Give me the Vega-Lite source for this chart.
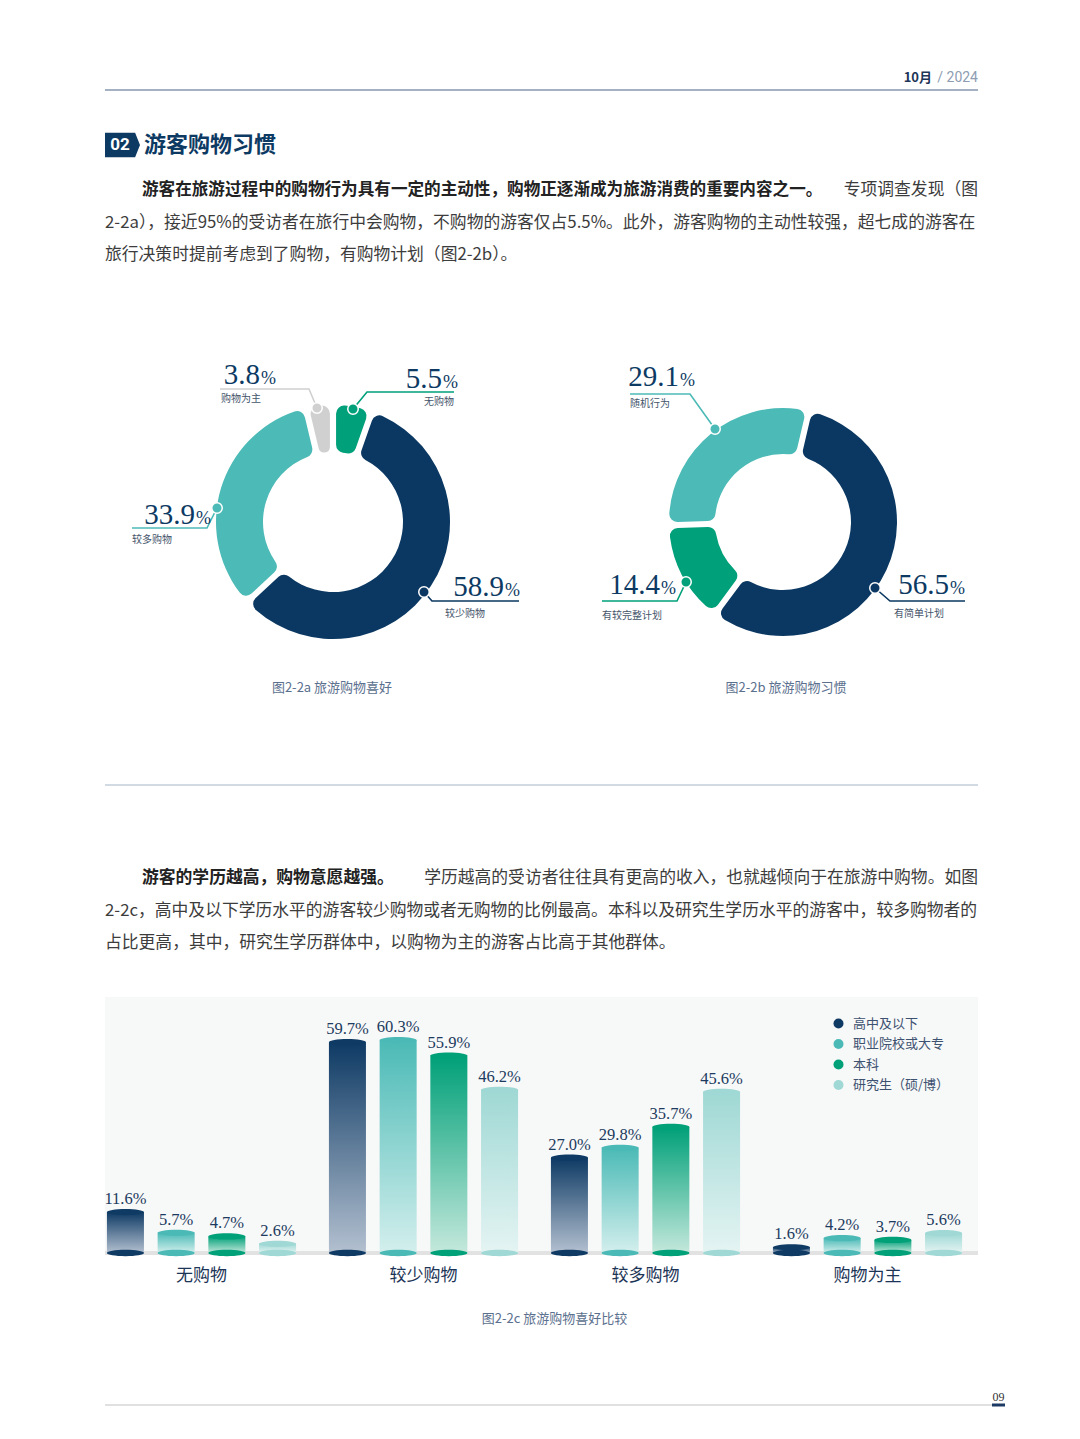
{
"$schema": "https://vega.github.io/schema/vega-lite/v6.json",
"background": "white",
"padding": {"left": 103, "top": 0, "right": 0, "bottom": 0},
"autosize": {"type": "pad"},
"bounds": "full",
"spacing": 0,
"resolve": {"scale": {"color": "independent", "theta": "independent", "x": "independent", "y": "independent"}, "legend": {"color": "independent"}},
"config": {"view": {"stroke": null}, "text": {"font": "Noto Sans CJK SC"}},
"datasets": {
 "p1": [
  {"line": 1, "part": "lead", "t": "游客在旅游过程中的购物行为具有一定的主动性，购物正逐渐成为旅游消费的重要内容之一。"},
  {"line": 1, "part": "tail", "t": "专项调查发现（图"},
  {"line": 2, "part": "body", "t": "2-2a），接近95%的受访者在旅行中会购物，不购物的游客仅占5.5%。此外，游客购物的主动性较强，超七成的游客在"},
  {"line": 3, "part": "body", "t": "旅行决策时提前考虑到了购物，有购物计划（图2-2b）。"}
 ],
 "p2": [
  {"line": 1, "part": "lead", "t": "游客的学历越高，购物意愿越强。"},
  {"line": 1, "part": "tail", "t": "学历越高的受访者往往具有更高的收入，也就越倾向于在旅游中购物。如图"},
  {"line": 2, "part": "body", "t": "2-2c，高中及以下学历水平的游客较少购物或者无购物的比例最高。本科以及研究生学历水平的游客中，较多购物者的"},
  {"line": 3, "part": "body", "t": "占比更高，其中，研究生学历群体中，以购物为主的游客占比高于其他群体。"}
 ],
 "aArcs": [
  {"k": "无购物", "v": 5.5, "ord": 1},
  {"k": "较少购物", "v": 58.9, "ord": 2},
  {"k": "较多购物", "v": 33.9, "ord": 3},
  {"k": "购物为主", "v": 3.8, "ord": 4}
 ],
 "aLines": [
  {"k": "无购物", "i": 0, "x": 0.20, "y": 1.13}, {"k": "无购物", "i": 1, "x": 0.34, "y": 1.30}, {"k": "无购物", "i": 2, "x": 1.21, "y": 1.30},
  {"k": "购物为主", "i": 0, "x": -0.16, "y": 1.14}, {"k": "购物为主", "i": 1, "x": -0.24, "y": 1.33}, {"k": "购物为主", "i": 2, "x": -1.13, "y": 1.33},
  {"k": "较多购物", "i": 0, "x": -1.16, "y": 0.14}, {"k": "较多购物", "i": 1, "x": -1.26, "y": -0.06}, {"k": "较多购物", "i": 2, "x": -2.01, "y": -0.06},
  {"k": "较少购物", "i": 0, "x": 0.91, "y": -0.70}, {"k": "较少购物", "i": 1, "x": 0.99, "y": -0.79}, {"k": "较少购物", "i": 2, "x": 1.86, "y": -0.79}
 ],
 "aNums": [
  {"k": "无购物", "v": 5.5, "x": 1.09, "y": 1.34},
  {"k": "购物为主", "v": 3.8, "x": -0.73, "y": 1.38},
  {"k": "较多购物", "v": 33.9, "x": -1.38, "y": -0.02},
  {"k": "较少购物", "v": 58.9, "x": 1.71, "y": -0.74}
 ],
 "aSubs": [
  {"k": "无购物", "x": 0.91, "y": 1.20},
  {"k": "购物为主", "x": -1.12, "y": 1.23},
  {"k": "较多购物", "x": -2.01, "y": -0.18},
  {"k": "较少购物", "x": 1.12, "y": -0.92}
 ],
 "aCap": [{"t": "图2-2a 旅游购物喜好", "x": -0.01, "y": -1.66}],
 "bArcs": [
  {"k": "有简单计划", "v": 56.5, "ord": 1},
  {"k": "有较完整计划", "v": 14.4, "ord": 2},
  {"k": "随机行为", "v": 29.1, "ord": 3}
 ],
 "bLines": [
  {"k": "随机行为", "i": 0, "x": -0.68, "y": 0.93}, {"k": "随机行为", "i": 1, "x": -0.93, "y": 1.28}, {"k": "随机行为", "i": 2, "x": -1.53, "y": 1.28},
  {"k": "有较完整计划", "i": 0, "x": -0.97, "y": -0.60}, {"k": "有较完整计划", "i": 1, "x": -1.06, "y": -0.79}, {"k": "有较完整计划", "i": 2, "x": -1.81, "y": -0.79},
  {"k": "有简单计划", "i": 0, "x": 0.92, "y": -0.66}, {"k": "有简单计划", "i": 1, "x": 1.07, "y": -0.79}, {"k": "有简单计划", "i": 2, "x": 1.82, "y": -0.79}
 ],
 "bNums": [
  {"k": "随机行为", "v": 29.1, "x": -1.04, "y": 1.36},
  {"k": "有较完整计划", "v": 14.4, "x": -1.23, "y": -0.72},
  {"k": "有简单计划", "v": 56.5, "x": 1.66, "y": -0.72}
 ],
 "bSubs": [
  {"k": "随机行为", "x": -1.53, "y": 1.18},
  {"k": "有较完整计划", "x": -1.81, "y": -0.94},
  {"k": "有简单计划", "x": 1.11, "y": -0.92}
 ],
 "bCap": [{"t": "图2-2b 旅游购物习惯", "x": 0.03, "y": -1.66}],
 "bars": [
  {"cat": "无购物", "edu": "高中及以下", "v": 0.116},
  {"cat": "无购物", "edu": "职业院校或大专", "v": 0.057},
  {"cat": "无购物", "edu": "本科", "v": 0.047},
  {"cat": "无购物", "edu": "研究生（硕/博）", "v": 0.026},
  {"cat": "较少购物", "edu": "高中及以下", "v": 0.597},
  {"cat": "较少购物", "edu": "职业院校或大专", "v": 0.603},
  {"cat": "较少购物", "edu": "本科", "v": 0.559},
  {"cat": "较少购物", "edu": "研究生（硕/博）", "v": 0.462},
  {"cat": "较多购物", "edu": "高中及以下", "v": 0.270},
  {"cat": "较多购物", "edu": "职业院校或大专", "v": 0.298},
  {"cat": "较多购物", "edu": "本科", "v": 0.357},
  {"cat": "较多购物", "edu": "研究生（硕/博）", "v": 0.456},
  {"cat": "购物为主", "edu": "高中及以下", "v": 0.016},
  {"cat": "购物为主", "edu": "职业院校或大专", "v": 0.042},
  {"cat": "购物为主", "edu": "本科", "v": 0.037},
  {"cat": "购物为主", "edu": "研究生（硕/博）", "v": 0.056}
 ]
},
"vconcat": [
 {
  "width": 873, "height": 173.5,
  "layer": [
   {"data": {"values": [{"n": 1}]}, "mark": {"type": "rule", "color": "#4b6485", "strokeWidth": 1.2}, "encoding": {"x": {"value": 0}, "x2": {"value": "width"}, "y": {"value": 90}}},
   {"data": {"values": [{"t": "/ 2024"}]}, "mark": {"type": "text", "align": "right", "baseline": "middle", "fontSize": 14, "color": "#8d9db2", "font": "Roboto"}, "encoding": {"text": {"field": "t"}, "x": {"value": "width"}, "y": {"value": 78}}},
   {"data": {"values": [{"t": "10月"}]}, "mark": {"type": "text", "align": "right", "baseline": "middle", "fontSize": 13, "fontWeight": "bold", "color": "#1d3557", "dx": -46}, "encoding": {"text": {"field": "t"}, "x": {"value": "width"}, "y": {"value": 78}}},
   {"data": {"values": [{"t": "02"}]}, "mark": {"type": "point", "shape": "M-1,-0.7L0.72,-0.7L1,0L0.72,0.7L-1,0.7Z", "filled": true, "color": "#0d3a63", "size": 1225, "opacity": 1}, "encoding": {"x": {"value": 17.5}, "y": {"value": 145}}},
   {"data": {"values": [{"t": "02"}]}, "mark": {"type": "text", "align": "center", "baseline": "middle", "fontSize": 17, "fontWeight": "bold", "color": "white", "font": "Roboto"}, "encoding": {"text": {"field": "t"}, "x": {"value": 15}, "y": {"value": 145}}},
   {"data": {"values": [{"t": "游客购物习惯"}]}, "mark": {"type": "text", "align": "left", "baseline": "middle", "fontSize": 22, "fontWeight": "bold", "color": "#0d3a63"}, "encoding": {"text": {"field": "t"}, "x": {"value": 39}, "y": {"value": 145}}}
  ]
 },
 {
  "width": 873, "height": 97.5,
  "data": {"name": "p1"},
  "encoding": {"y": {"field": "line", "type": "quantitative", "scale": {"domain": [0.5, 3.5], "reverse": true, "nice": false, "zero": false}, "axis": null}, "text": {"field": "t"}},
  "layer": [
   {"transform": [{"filter": "datum.part === 'lead'"}], "mark": {"type": "text", "align": "left", "baseline": "middle", "fontSize": 16.6, "fontWeight": "bold", "color": "#222222", "dx": 37}, "encoding": {"x": {"value": 0}}},
   {"transform": [{"filter": "datum.part === 'tail'"}], "mark": {"type": "text", "align": "right", "baseline": "middle", "fontSize": 16.8, "color": "#3c3c3c"}, "encoding": {"x": {"value": "width"}}},
   {"transform": [{"filter": "datum.part === 'body'"}], "mark": {"type": "text", "align": "left", "baseline": "middle", "fontSize": 16.8, "color": "#3c3c3c"}, "encoding": {"x": {"value": 0}}}
  ]
 },
 {
  "hconcat": [
   {
    "width": 456, "height": 500,
    "layer": [
     {"data": {"name": "aArcs"}, "mark": {"type": "arc", "outerRadius": 117, "innerRadius": 70, "padAngle": 0.045, "cornerRadius": 8},
      "encoding": {
       "theta": {"field": "v", "type": "quantitative", "stack": true},
       "order": {"field": "ord", "type": "quantitative"},
       "color": {"field": "k", "type": "nominal", "scale": {"domain": ["无购物", "较少购物", "较多购物", "购物为主"], "range": ["#00a07a", "#0b3862", "#4cbab6", "#d0d0d0"]}, "legend": null}
      }},
     {"data": {"name": "aLines"}, "mark": {"type": "line", "strokeWidth": 1.6},
      "encoding": {
       "x": {"field": "x", "type": "quantitative", "scale": {"domain": [-2.28, 2.28], "nice": false, "zero": false}, "axis": null},
       "y": {"field": "y", "type": "quantitative", "scale": {"domain": [-2.5, 2.5], "nice": false, "zero": false}, "axis": null},
       "detail": {"field": "k"}, "order": {"field": "i", "type": "quantitative"}, "color": {"field": "k", "type": "nominal", "legend": null}}},
     {"data": {"name": "aLines"}, "transform": [{"filter": "datum.i === 0"}], "mark": {"type": "point", "filled": true, "size": 110, "opacity": 1, "stroke": "white", "strokeWidth": 1.5},
      "encoding": {
       "x": {"field": "x", "type": "quantitative", "scale": {"domain": [-2.28, 2.28], "nice": false, "zero": false}, "axis": null},
       "y": {"field": "y", "type": "quantitative", "scale": {"domain": [-2.5, 2.5], "nice": false, "zero": false}, "axis": null},
       "color": {"field": "k", "type": "nominal", "legend": null}}},
     {"data": {"name": "aNums"}, "mark": {"type": "text", "align": "right", "baseline": "alphabetic", "font": "Liberation Serif", "fontSize": 29, "color": "#0d3a63"},
      "encoding": {
       "x": {"field": "x", "type": "quantitative", "scale": {"domain": [-2.28, 2.28], "nice": false, "zero": false}, "axis": null},
       "y": {"field": "y", "type": "quantitative", "scale": {"domain": [-2.5, 2.5], "nice": false, "zero": false}, "axis": null},
       "text": {"field": "v", "type": "quantitative", "format": ".1f"}}},
     {"data": {"name": "aNums"}, "mark": {"type": "text", "align": "left", "baseline": "alphabetic", "font": "Liberation Serif", "fontSize": 18, "color": "#0d3a63", "dx": 1},
      "encoding": {
       "x": {"field": "x", "type": "quantitative", "scale": {"domain": [-2.28, 2.28], "nice": false, "zero": false}, "axis": null},
       "y": {"field": "y", "type": "quantitative", "scale": {"domain": [-2.5, 2.5], "nice": false, "zero": false}, "axis": null},
       "text": {"value": "%"}}},
     {"data": {"name": "aSubs"}, "mark": {"type": "text", "align": "left", "baseline": "middle", "fontSize": 10, "color": "#44546a"},
      "encoding": {
       "x": {"field": "x", "type": "quantitative", "scale": {"domain": [-2.28, 2.28], "nice": false, "zero": false}, "axis": null},
       "y": {"field": "y", "type": "quantitative", "scale": {"domain": [-2.5, 2.5], "nice": false, "zero": false}, "axis": null},
       "text": {"field": "k"}}},
     {"data": {"name": "aCap"}, "mark": {"type": "text", "align": "center", "baseline": "middle", "fontSize": 13, "color": "#5b708e"},
      "encoding": {
       "x": {"field": "x", "type": "quantitative", "scale": {"domain": [-2.28, 2.28], "nice": false, "zero": false}, "axis": null},
       "y": {"field": "y", "type": "quantitative", "scale": {"domain": [-2.5, 2.5], "nice": false, "zero": false}, "axis": null},
       "text": {"field": "t"}}}
    ]
   },
   {
    "width": 444, "height": 500,
    "layer": [
     {"data": {"name": "bArcs"}, "mark": {"type": "arc", "outerRadius": 114, "innerRadius": 68, "padAngle": 0.045, "cornerRadius": 8},
      "encoding": {
       "theta": {"field": "v", "type": "quantitative", "stack": true, "scale": {"range": [0.23, 6.5132]}},
       "order": {"field": "ord", "type": "quantitative"},
       "color": {"field": "k", "type": "nominal", "scale": {"domain": ["有简单计划", "有较完整计划", "随机行为"], "range": ["#0b3862", "#00a07a", "#4cbab6"]}, "legend": null}
      }},
     {"data": {"name": "bLines"}, "mark": {"type": "line", "strokeWidth": 1.6},
      "encoding": {
       "x": {"field": "x", "type": "quantitative", "scale": {"domain": [-2.22, 2.22], "nice": false, "zero": false}, "axis": null},
       "y": {"field": "y", "type": "quantitative", "scale": {"domain": [-2.5, 2.5], "nice": false, "zero": false}, "axis": null},
       "detail": {"field": "k"}, "order": {"field": "i", "type": "quantitative"}, "color": {"field": "k", "type": "nominal", "legend": null}}},
     {"data": {"name": "bLines"}, "transform": [{"filter": "datum.i === 0"}], "mark": {"type": "point", "filled": true, "size": 110, "opacity": 1, "stroke": "white", "strokeWidth": 1.5},
      "encoding": {
       "x": {"field": "x", "type": "quantitative", "scale": {"domain": [-2.22, 2.22], "nice": false, "zero": false}, "axis": null},
       "y": {"field": "y", "type": "quantitative", "scale": {"domain": [-2.5, 2.5], "nice": false, "zero": false}, "axis": null},
       "color": {"field": "k", "type": "nominal", "legend": null}}},
     {"data": {"name": "bNums"}, "mark": {"type": "text", "align": "right", "baseline": "alphabetic", "font": "Liberation Serif", "fontSize": 29, "color": "#0d3a63"},
      "encoding": {
       "x": {"field": "x", "type": "quantitative", "scale": {"domain": [-2.22, 2.22], "nice": false, "zero": false}, "axis": null},
       "y": {"field": "y", "type": "quantitative", "scale": {"domain": [-2.5, 2.5], "nice": false, "zero": false}, "axis": null},
       "text": {"field": "v", "type": "quantitative", "format": ".1f"}}},
     {"data": {"name": "bNums"}, "mark": {"type": "text", "align": "left", "baseline": "alphabetic", "font": "Liberation Serif", "fontSize": 18, "color": "#0d3a63", "dx": 1},
      "encoding": {
       "x": {"field": "x", "type": "quantitative", "scale": {"domain": [-2.22, 2.22], "nice": false, "zero": false}, "axis": null},
       "y": {"field": "y", "type": "quantitative", "scale": {"domain": [-2.5, 2.5], "nice": false, "zero": false}, "axis": null},
       "text": {"value": "%"}}},
     {"data": {"name": "bSubs"}, "mark": {"type": "text", "align": "left", "baseline": "middle", "fontSize": 10, "color": "#44546a"},
      "encoding": {
       "x": {"field": "x", "type": "quantitative", "scale": {"domain": [-2.22, 2.22], "nice": false, "zero": false}, "axis": null},
       "y": {"field": "y", "type": "quantitative", "scale": {"domain": [-2.5, 2.5], "nice": false, "zero": false}, "axis": null},
       "text": {"field": "k"}}},
     {"data": {"name": "bCap"}, "mark": {"type": "text", "align": "center", "baseline": "middle", "fontSize": 13, "color": "#5b708e"},
      "encoding": {
       "x": {"field": "x", "type": "quantitative", "scale": {"domain": [-2.22, 2.22], "nice": false, "zero": false}, "axis": null},
       "y": {"field": "y", "type": "quantitative", "scale": {"domain": [-2.5, 2.5], "nice": false, "zero": false}, "axis": null},
       "text": {"field": "t"}}}
    ]
   }
  ],
  "spacing": 0,
  "bounds": "full",
  "resolve": {"scale": {"color": "independent", "theta": "independent", "x": "independent", "y": "independent"}}
 },
 {
  "width": 873, "height": 89.5,
  "data": {"values": [{"n": 1}]},
  "mark": {"type": "rule", "color": "#a4b4c6", "strokeWidth": 1},
  "encoding": {"x": {"value": 0}, "x2": {"value": "width"}, "y": {"value": 13}}
 },
 {
  "width": 873, "height": 134.5,
  "data": {"name": "p2"},
  "encoding": {"y": {"field": "line", "type": "quantitative", "scale": {"domain": [0.5, 4.638], "reverse": true, "nice": false, "zero": false}, "axis": null}, "text": {"field": "t"}},
  "layer": [
   {"transform": [{"filter": "datum.part === 'lead'"}], "mark": {"type": "text", "align": "left", "baseline": "middle", "fontSize": 16.8, "fontWeight": "bold", "color": "#222222", "dx": 37}, "encoding": {"x": {"value": 0}}},
   {"transform": [{"filter": "datum.part === 'tail'"}], "mark": {"type": "text", "align": "right", "baseline": "middle", "fontSize": 16.8, "color": "#3c3c3c"}, "encoding": {"x": {"value": "width"}}},
   {"transform": [{"filter": "datum.part === 'body'"}], "mark": {"type": "text", "align": "left", "baseline": "middle", "fontSize": 16.8, "color": "#3c3c3c"}, "encoding": {"x": {"value": 0}}}
  ]
 },
 {
  "width": 873, "height": 256,
  "view": {"fill": "#f7f8f8", "stroke": null},
  "data": {"name": "bars"},
  "layer": [
   {"data": {"values": [{"n": 1}]}, "mark": {"type": "rule", "color": "#e2e2e2", "strokeWidth": 4}, "encoding": {"y": {"datum": 0, "type": "quantitative", "scale": {"domain": [0, 0.725], "nice": false, "zero": true}, "axis": null}}},
   {"mark": {"type": "bar"},
    "encoding": {
     "x": {"field": "cat", "type": "nominal", "sort": ["无购物", "较少购物", "较多购物", "购物为主"], "scale": {"domain": ["无购物", "较少购物", "较多购物", "购物为主"], "range": [-14.5, 873.5], "paddingInner": 0, "paddingOuter": 0},
      "axis": {"title": "图2-2c 旅游购物喜好比较", "domain": false, "ticks": false, "grid": false, "labelAngle": 0, "labelFont": "Noto Sans CJK SC", "labelFontSize": 17, "labelColor": "#1c3557", "labelPadding": 14, "titleFont": "Noto Sans CJK SC", "titleFontSize": 13, "titleFontWeight": "normal", "titleColor": "#5b708e", "titlePadding": 29, "titleX": 449}},
     "xOffset": {"field": "edu", "type": "nominal", "scale": {"domain": ["高中及以下", "职业院校或大专", "本科", "研究生（硕/博）"], "paddingInner": 0.27, "paddingOuter": 0.324}},
     "y": {"field": "v", "type": "quantitative", "scale": {"domain": [0, 0.725], "nice": false, "zero": true}, "axis": null},
     "fill": {"condition": [
       {"test": "datum.edu === '高中及以下'", "value": {"gradient": "linear", "x1": 0, "y1": 0, "x2": 0, "y2": 1, "stops": [{"offset": 0, "color": "#0e3a64"}, {"offset": 1, "color": "#b3c0d0"}]}},
       {"test": "datum.edu === '职业院校或大专'", "value": {"gradient": "linear", "x1": 0, "y1": 0, "x2": 0, "y2": 1, "stops": [{"offset": 0, "color": "#4bbab6"}, {"offset": 1, "color": "#d3efed"}]}},
       {"test": "datum.edu === '本科'", "value": {"gradient": "linear", "x1": 0, "y1": 0, "x2": 0, "y2": 1, "stops": [{"offset": 0, "color": "#00a078"}, {"offset": 1, "color": "#c4e8dc"}]}}
      ],
      "value": {"gradient": "linear", "x1": 0, "y1": 0, "x2": 0, "y2": 1, "stops": [{"offset": 0, "color": "#9fd8d4"}, {"offset": 1, "color": "#e4f4f3"}]}}
    }},
   {"mark": {"type": "point", "shape": "M-1,0A1,0.17,0,1,0,1,0A1,0.17,0,1,0,-1,0Z", "filled": true, "size": 1369, "opacity": 1},
    "encoding": {
     "x": {"field": "cat", "type": "nominal", "sort": ["无购物", "较少购物", "较多购物", "购物为主"]},
     "xOffset": {"field": "edu", "type": "nominal"},
     "y": {"field": "v", "type": "quantitative"},
     "color": {"field": "edu", "type": "nominal", "scale": {"domain": ["高中及以下", "职业院校或大专", "本科", "研究生（硕/博）"], "range": ["#0e3a64", "#4bbab6", "#00a078", "#9fd8d4"]},
      "legend": {"orient": "none", "legendX": 727, "legendY": 20, "title": null, "symbolType": "circle", "symbolSize": 100, "labelFont": "Noto Sans CJK SC", "labelFontSize": 13, "labelColor": "#3d5170", "rowPadding": 6.5, "labelOffset": 8, "padding": 0, "symbolStrokeWidth": 0}}
    }},
   {"mark": {"type": "point", "shape": "M-1,0A1,0.17,0,1,0,1,0A1,0.17,0,1,0,-1,0Z", "filled": true, "size": 1369, "opacity": 1},
    "encoding": {
     "x": {"field": "cat", "type": "nominal", "sort": ["无购物", "较少购物", "较多购物", "购物为主"]},
     "xOffset": {"field": "edu", "type": "nominal"},
     "y": {"datum": 0, "type": "quantitative"},
     "color": {"field": "edu", "type": "nominal"}
    }},
   {"mark": {"type": "text", "baseline": "bottom", "dy": -5, "font": "Liberation Serif", "fontSize": 16.5, "color": "#1c3b5e"},
    "encoding": {
     "x": {"field": "cat", "type": "nominal", "sort": ["无购物", "较少购物", "较多购物", "购物为主"]},
     "xOffset": {"field": "edu", "type": "nominal"},
     "y": {"field": "v", "type": "quantitative"},
     "text": {"field": "v", "type": "quantitative", "format": ".1%"}
    }}
  ]
 },
 {
  "width": 873, "height": 115,
  "layer": [
   {"data": {"values": [{"n": 1}]}, "mark": {"type": "rule", "color": "#c2c2c2", "strokeWidth": 1}, "encoding": {"x": {"value": 0}, "x2": {"value": 900}, "y": {"value": 80}}},
   {"data": {"values": [{"n": 1}]}, "mark": {"type": "rule", "color": "#1d3a64", "strokeWidth": 3}, "encoding": {"x": {"value": 887}, "x2": {"value": 900}, "y": {"value": 80}}},
   {"data": {"values": [{"t": "09"}]}, "mark": {"type": "text", "align": "center", "baseline": "middle", "font": "Liberation Serif", "fontSize": 12, "color": "#333333"}, "encoding": {"text": {"field": "t"}, "x": {"value": 893.5}, "y": {"value": 72}}}
  ]
 }
]
}
